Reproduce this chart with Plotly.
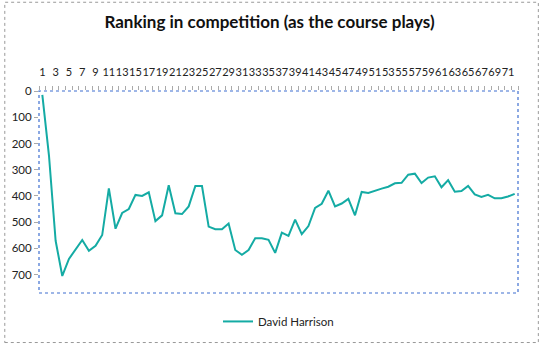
import plotly.graph_objects as go

rounds = list(range(1, 73))
ranking = [15, 246, 571, 705, 640, 606, 568, 609, 590, 549,
           371, 525, 465, 450, 396, 400, 386, 496, 474, 359,
           466, 469, 440, 362, 362, 517, 527, 527, 505, 606,
           624, 606, 561, 561, 567, 617, 540, 552, 490, 546,
           515, 446, 430, 380, 440, 429, 411, 474, 385, 389,
           379, 372, 365, 352, 350, 319, 315, 351, 330, 325,
           367, 340, 384, 381, 362, 394, 404, 396, 409, 409,
           402, 392]
x_labels = [str(i) for i in range(1, 73, 2)]
x_label_pos = list(range(1, 73, 2))
y_ticks = [0, 100, 200, 300, 400, 500, 600, 700]
series_name = "David Harrison"
title_text = "Ranking in competition (as the course plays)"

FONT = "Lato"

fig = go.Figure()
fig.add_trace(go.Scatter(
    x=rounds, y=ranking, mode="lines", name=series_name,
    line=dict(color="#14ABA4", width=2),
    showlegend=True,
))

W, H = 539, 348
L, R, T, B = 35, 21, 91, 51
pw, ph = W - L - R, H - T - B

fig.update_layout(
    width=W, height=H,
    margin=dict(l=L, r=R, t=T, b=B),
    paper_bgcolor="white", plot_bgcolor="white",
    font=dict(family=FONT, size=11, color="#222222"),
    title=dict(text="<b>" + title_text + "</b>", x=0.5, xanchor="center",
               y=1 - 22 / H, yanchor="middle",
               font=dict(family=FONT, size=17, color="#111111")),
    showlegend=True,
    legend=dict(orientation="h", x=0.5, xanchor="center",
                y=(0 - 29) / ph, yanchor="middle",
                font=dict(family=FONT, size=11.5, color="#222222"),
                itemwidth=30),
    xaxis=dict(
        side="top", range=[0.5, 72.5], showgrid=False, zeroline=False,
        tickmode="array", tickvals=x_label_pos, ticktext=x_labels,
        tickangle=0, ticks="outside", ticklen=10, tickcolor="rgba(0,0,0,0)",
        tickfont=dict(family=FONT, size=11, color="#222222"),
        showline=False,
        minor=dict(ticks="outside", tick0=0.5, dtick=1, ticklen=4,
                   tickcolor="#aaaaaa", showgrid=False),
    ),
    yaxis=dict(
        range=[770, 0], showgrid=False, zeroline=False,
        tickmode="array", tickvals=y_ticks,
        ticks="outside", ticklen=4, tickcolor="#aaaaaa",
        tickfont=dict(family=FONT, size=11.5, color="#222222"),
        showline=False,
    ),
)

# plot area border (blue dotted)
fig.add_shape(type="rect", xref="paper", yref="paper", x0=0, x1=1, y0=0, y1=1,
              line=dict(color="#3F6FD0", width=1.2, dash="dot"), layer="above")
# chart area outer border (grey dashed)
fig.add_shape(type="rect", xref="paper", yref="paper",
              x0=-(L - 0.5) / pw, x1=(W - L - 0.5) / pw,
              y0=-(B - 0.5) / ph, y1=1 + (T - 0.5) / ph,
              line=dict(color="#999999", width=1, dash="dot"), layer="above")

fig.write_html("out.html")
